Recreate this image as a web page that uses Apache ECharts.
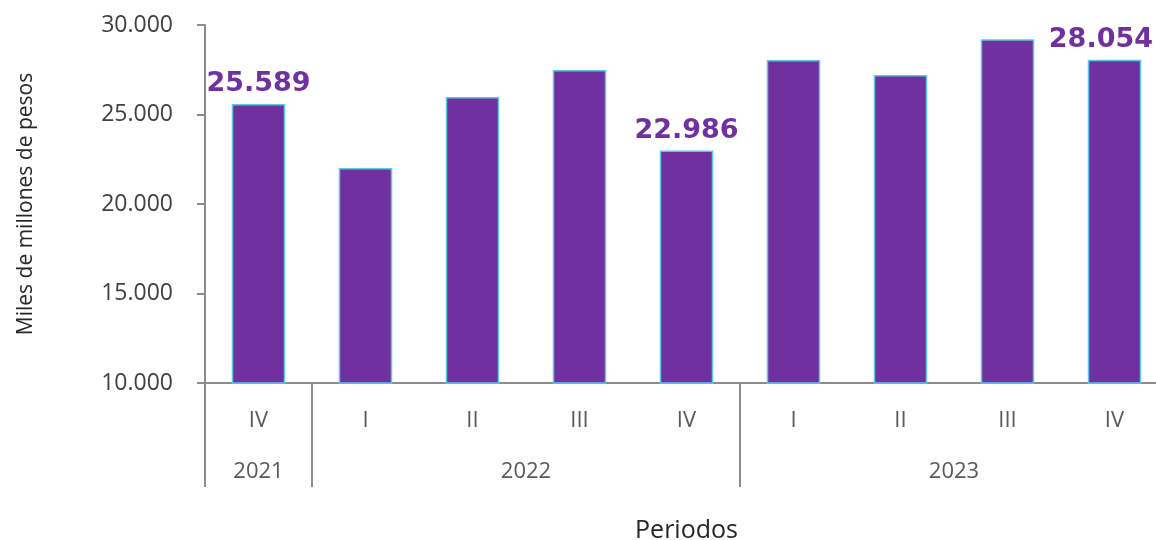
<!DOCTYPE html>
<html>
<head>
    <meta charset="utf-8">
    <title>bar</title>
    <script src="https://cdn.jsdelivr.net/npm/echarts@6/dist/echarts.min.js"></script>
    <style>
        body { margin: 0; background: #fff; }
    </style>
</head>
<body>
<div id="main" style="width: 1156px;height:540px;"></div>

<script type="text/javascript">
    // datos
    var quarters = ['IV', 'I', 'II', 'III', 'IV', 'I', 'II', 'III', 'IV'];
    var values = [25589, 22010, 25980, 27490, 22986, 28045, 27200, 29210, 28054];
    var labelled = [0, 4, 8];   // barras con etiqueta
    var years = ['2021', '2022', '2023'];
    var yearSpans = [1, 4, 4];

    // bordes y centros de los años
    var yearBounds = [0];
    var yearCenters = [];
    for (var i = 0; i < yearSpans.length; i++) {
        var start = yearBounds[yearBounds.length - 1];
        yearCenters.push(start + yearSpans[i] / 2);
        yearBounds.push(start + yearSpans[i]);
    }

    function miles(v) {
        return String(Math.round(v)).replace(/\B(?=(\d{3})+(?!\d))/g, '.');
    }

    var axisColor = '#8c8c8c';
    var chartWidth = 1156;
    var myChart = echarts.init(document.getElementById('main'));

    var option = {
        animation: false,
        textStyle: { fontFamily: 'Open Sans' },
        grid: { left: 205, top: 25, bottom: 157, width: 963, outerBoundsMode: 'none', containLabel: false },
        xAxis: [{
            type: 'category',
            data: quarters,
            name: 'Periodos',
            nameLocation: 'middle',
            nameGap: 135,
            nameTextStyle: { fontSize: 25, color: '#262626', fontFamily: 'Open Sans' },
            axisLine: { lineStyle: { color: axisColor, width: 2 } },
            axisTick: { interval: 0, length: 52, lineStyle: { color: axisColor, width: 2 } },
            axisLabel: { interval: 0, margin: 27, fontSize: 22, color: '#595959' }
        }, {
            type: 'value',
            position: 'bottom',
            min: 0,
            max: quarters.length,
            splitLine: { show: false },
            axisLine: { show: false },
            axisTick: {
                show: true,
                length: 104,
                customValues: yearBounds,
                lineStyle: { color: axisColor, width: 2 }
            },
            axisLabel: {
                margin: 78,
                fontSize: 22,
                color: '#595959',
                customValues: yearCenters,
                formatter: function (v) {
                    var k = yearCenters.indexOf(v);
                    return k >= 0 ? years[k] : '';
                }
            }
        }],
        yAxis: {
            type: 'value',
            min: 10000,
            max: 30000,
            interval: 5000,
            name: 'Miles de millones de pesos',
            nameLocation: 'middle',
            nameGap: 168,
            nameTextStyle: { fontSize: 21, color: '#262626' },
            splitLine: { show: false },
            axisLine: { show: true, lineStyle: { color: axisColor, width: 2 } },
            axisTick: { show: true, length: 8, lineStyle: { color: axisColor, width: 2 } },
            axisLabel: {
                margin: 32,
                fontSize: 23,
                color: '#404040',
                formatter: function (v) { return miles(v); }
            }
        },
        series: [{
            type: 'bar',
            xAxisIndex: 0,
            barWidth: '50%',
            data: values.map(function (v, i) {
                return {
                    value: v,
                    label: { show: labelled.indexOf(i) >= 0 }
                };
            }),
            itemStyle: {
                color: '#7030A0',
                borderColor: '#5BC8E8',
                borderWidth: 1.5
            },
            label: {
                position: 'top',
                distance: 6,
                fontFamily: 'DejaVu Sans',
                fontWeight: 'bold',
                fontSize: 27,
                color: '#7030A0',
                formatter: function (p) { return miles(p.value); }
            },
            // mantener la etiqueta dentro del lienzo
            labelLayout: function (p) {
                var r = p.labelRect;
                var over = r.x + r.width - (chartWidth - 3);
                return { dx: over > 0 ? -over : 0 };
            }
        }]
    };

    myChart.setOption(option);
</script>
</body>
</html>
